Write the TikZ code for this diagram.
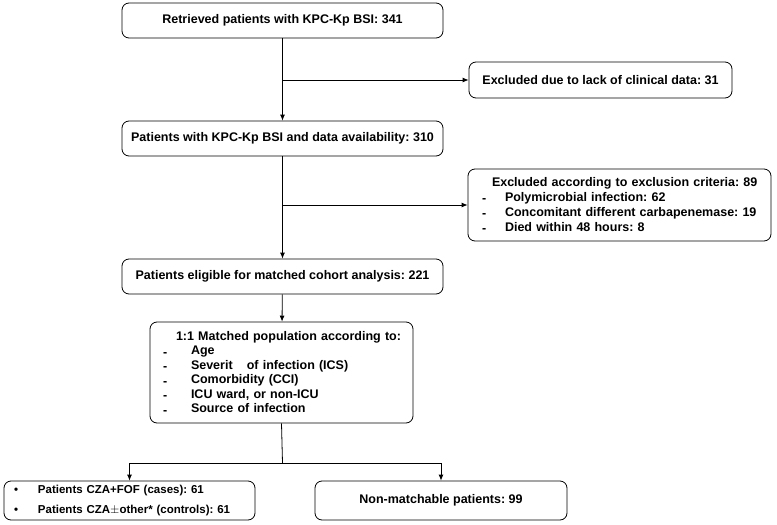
\documentclass[tikz,border=0pt]{standalone}
\usepackage{fontspec}
\setmainfont{Liberation Sans}
\usetikzlibrary{arrows.meta}
\frenchspacing
\newcommand{\dsh}[1]{\makebox[#1][l]{\raisebox{-1.5pt}{-}}}
\newcommand{\bul}{\makebox[24pt][l]{\textbullet}}

\begin{document}
\begin{tikzpicture}[x=1pt,y=-1pt,
  box/.style={draw,rounded corners=7pt,line width=0.8pt,inner sep=0pt,align=center,
    font=\bfseries\fontsize{12.5}{15}\selectfont},
  arr/.style={-{Latex[length=6pt,width=5pt]},line width=0.8pt}]
\useasboundingbox (0,0) rectangle (777,525);

\node[box,minimum width=321pt,minimum height=35pt] (v1) at (282.5,20.5) {Retrieved patients with KPC-Kp BSI: 341};
\node[box,minimum width=321pt,minimum height=35pt] (v2) at (282.5,138.5) {Patients with KPC-Kp BSI and data availability: 310};
\node[box,minimum width=321pt,minimum height=35pt] (v3) at (282.5,276.5) {Patients eligible for matched cohort analysis: 221};
\node[box,minimum width=263pt,minimum height=36pt] (x1) at (600.5,80) {Excluded due to lack of clinical data: 31};
\node[box,align=left,text width=275pt,inner xsep=14pt,minimum height=72pt] (x2) at (619.5,205)
  {\hspace*{10pt}\mbox{Excluded according to exclusion criteria: 89}\\
   \dsh{23pt}Polymicrobial infection: 62\\
   \dsh{23pt}Concomitant different carbapenemase: 19\\
   \dsh{23pt}Died within 48 hours: 8};
\node[box,align=left,text width=237pt,inner xsep=13pt,minimum height=101pt,
  font=\bfseries\fontsize{12.5}{14.5}\selectfont] (v4) at (281.5,372.5)
  {\hspace*{13pt}\mbox{1:1 Matched population according to:}\\
   \dsh{28pt}Age\\
   \dsh{28pt}Severit\hspace{10pt} of infection (ICS)\\
   \dsh{28pt}Comorbidity (CCI)\\
   \dsh{28pt}ICU ward, or non-ICU\\
   \dsh{28pt}Source of infection};
\node[box,align=left,text width=231pt,inner xsep=10pt,minimum height=39pt,
  font=\bfseries\fontsize{11.5}{20}\selectfont] (c1) at (129.5,500.5)
  {\bul Patients CZA+FOF (cases): 61\\
   \bul Patients CZA$\pm$other* (controls): 61};
\node[box,minimum width=252pt,minimum height=39pt] (c2) at (441,500.5) {Non-matchable patients: 99};

\coordinate (j1) at (282.5,80);
\coordinate (j2) at (282.5,205);
\coordinate (j3) at (282.5,463);

\draw[arr] (v1) -- (v2);
\draw[arr] (j1) -- (x1);
\draw[arr] (v2) -- (v3);
\draw[arr] (j2) -- (x2);
\draw[arr] (v3) -- (v4);
\draw[line width=0.8pt] (v4.south) -- (j3);
\draw[arr] (j3) -| (c1.north);
\draw[arr] (j3) -| (c2.north);
\end{tikzpicture}
\end{document}
